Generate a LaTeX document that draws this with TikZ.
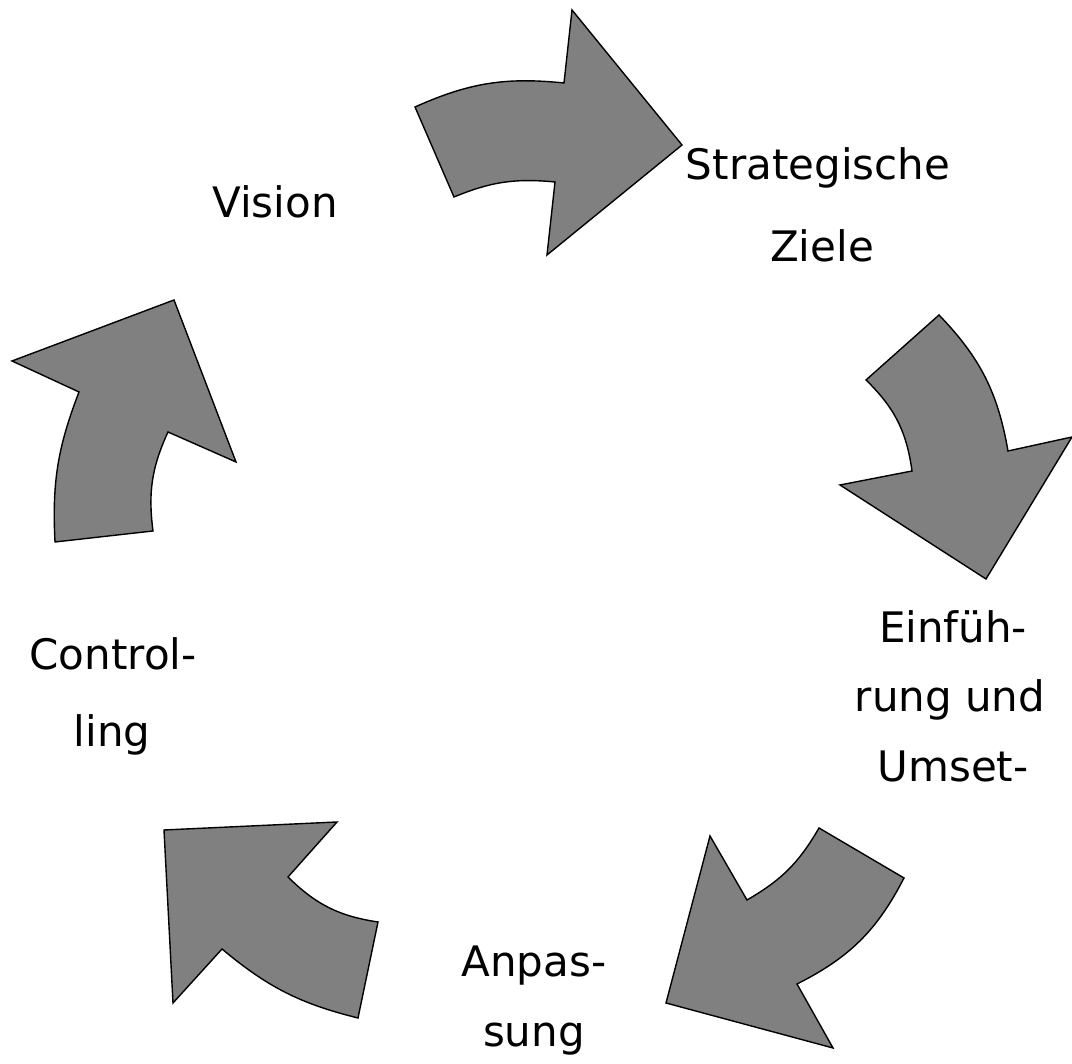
\documentclass[tikz,border=0pt]{standalone}
\usepackage{fontspec}
\setmainfont{DejaVu Sans}
\definecolor{arrowfill}{HTML}{808080}
\begin{document}
\begin{tikzpicture}[x=1pt,y=1pt,
  cyclearrow/.style={draw=black, fill=arrowfill, line width=1.4pt, line join=miter},
  lbl/.style={anchor=base, inner sep=0pt, font=\fontsize{42}{50}\selectfont}]
\useasboundingbox (0,0) rectangle (1072,1064);
% Arrow 1 (top)
\draw[cyclearrow] (415,957) to[bend left=15] (564,981) -- (572,1054) -- (682,919) -- (547,809) -- (555,882) to[bend right=14] (454,867) -- cycle;
% Arrow 2 (right)
\draw[cyclearrow] (939,749) to[bend left=17] (1008,613) -- (1072,627) -- (986,485) -- (840,579) -- (912,593) to[bend right=19] (866,684) -- cycle;
% Arrow 3 (bottom right)
\draw[cyclearrow] (819,236) to[bend left=15] (747,164) -- (710,228) -- (666,61) -- (833,16) -- (797,80) to[bend right=18] (904,186) -- cycle;
% Arrow 4 (bottom left)
\draw[cyclearrow] (337,242) -- (288,187) to[bend right=18] (378,142) -- (358,46) to[bend left=13] (222,115) -- (173,61) -- (164,234) -- cycle;
% Arrow 5 (left)
\draw[cyclearrow] (55,522) to[bend left=12] (79,672) -- (12,703) -- (174,764) -- (236,602) -- (168,632) to[bend right=16] (153,533) -- cycle;
% Labels
\node[lbl] (vision) at (275,846) {Vision};
\node[lbl] (strat1) at (818,884) {Strategische};
\node[lbl] (strat2) at (822,802) {Ziele};
\node[lbl] (einf1) at (953,421) {Einfüh-};
\node[lbl] (einf2) at (950,352) {rung und};
\node[lbl] (einf3) at (953,282) {Umset-};
\node[lbl] (anp1) at (534,87) {Anpas-};
\node[lbl] (anp2) at (534,17) {sung};
\node[lbl] (contr1) at (113,394) {Control-};
\node[lbl] (contr2) at (112,317) {ling};
\end{tikzpicture}
\end{document}
